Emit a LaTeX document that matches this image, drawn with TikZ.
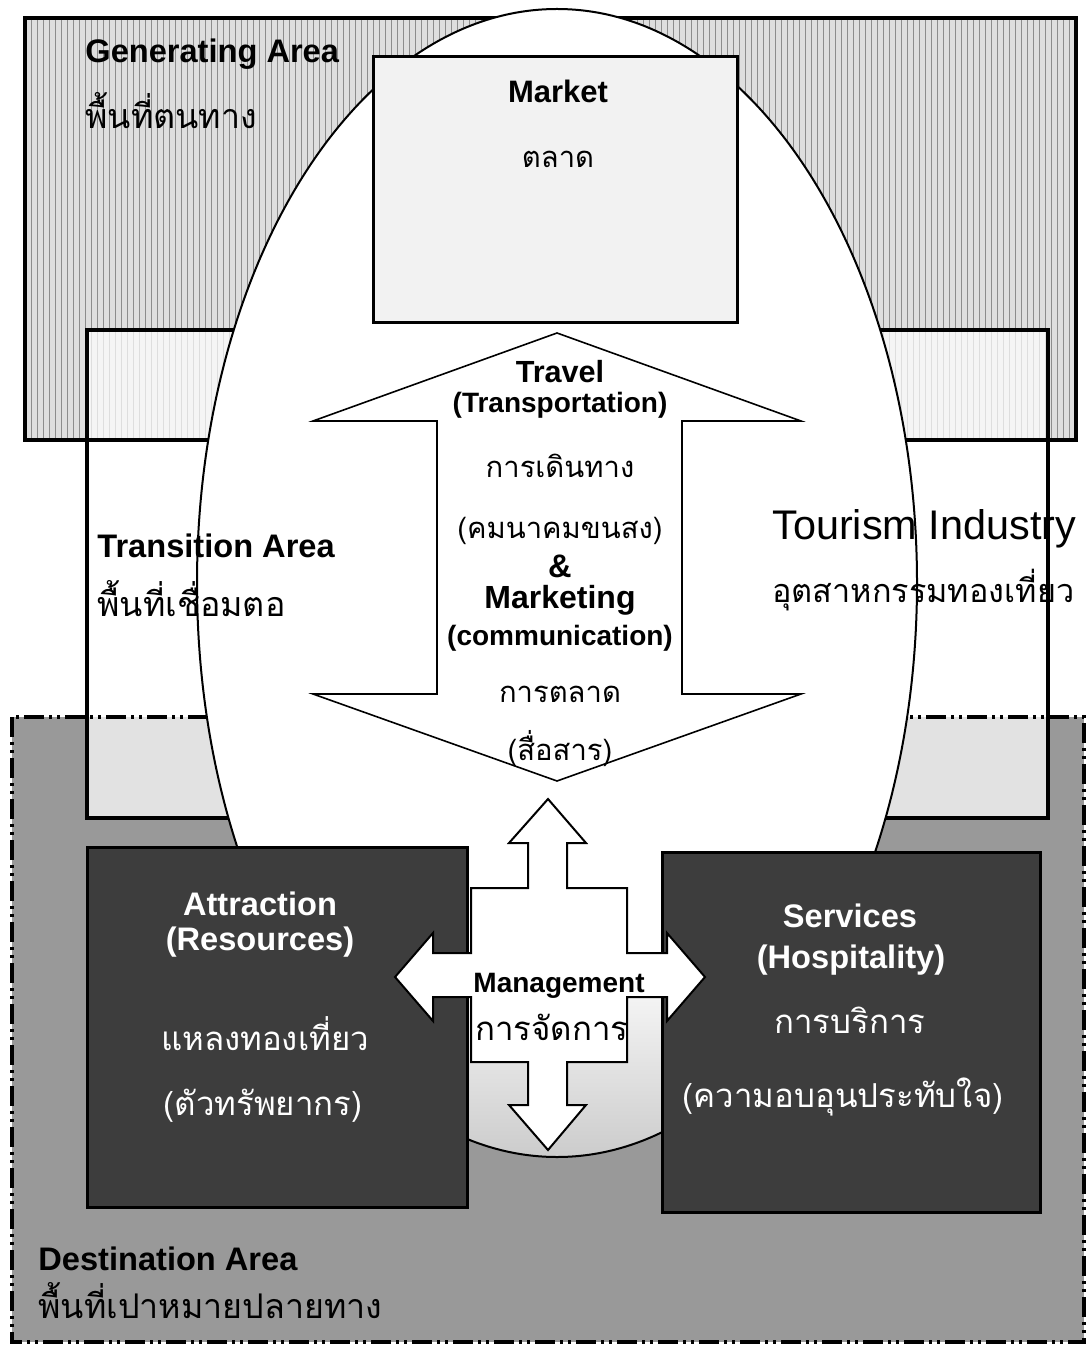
\documentclass[tikz,border=0pt]{standalone}
\usepackage{fontspec}
\usetikzlibrary{patterns}
\setmainfont{Liberation Sans}
\newfontfamily\thaifont[Script=Thai]{Loma}
\pgfdeclareverticalshading{eggshade}{100bp}{color(0bp)=(black!20); color(25bp)=(black!20); color(34bp)=(white); color(100bp)=(white)}
\begin{document}
\begin{tikzpicture}[x=0.5pt,y=-0.5pt,
  areaborder/.style={line width=2pt},
  areatitle/.style={inner sep=0pt, anchor=base west, font=\fontsize{16.3}{18}\selectfont\bfseries},
  areathai/.style={inner sep=0pt, anchor=base west, font=\fontsize{17}{20}\selectfont\thaifont},
  headb/.style={inner sep=0pt, anchor=base, font=\fontsize{16.3}{18}\selectfont\bfseries},
  subb/.style={inner sep=0pt, anchor=base, font=\fontsize{14}{16}\selectfont\bfseries},
  thaic/.style={inner sep=0pt, anchor=base, font=\fontsize{14.6}{17}\selectfont\thaifont},
  thaibox/.style={inner sep=0pt, anchor=base, text=white, font=\fontsize{16.5}{18}\selectfont\thaifont},
  darkbox/.style={draw=black, line width=1.5pt, fill=black!76},
  whitearrow/.style={draw=black, fill=white, line join=miter}
]
\useasboundingbox (0,0) rectangle (1087,1347);
\fill[white] (0,0) rectangle (1087,1347);

% area fills
\path[fill=black!13] (25,18) rectangle (1076,440);
\path[pattern=vertical lines, pattern color=black!45] (25,18) rectangle (1076,440);
\path[fill=black!40] (12,717) rectangle (1084,1342);
\path[fill=white, fill opacity=0.72] (87,330) rectangle (1048,818);

% area borders
\draw[areaborder] (25,18) rectangle (1076,440);
\draw[line width=1.6pt, dash pattern=on 10pt off 2.5pt on 1.5pt off 2.5pt on 1.5pt off 2.5pt] (12,717) rectangle (1084,1342);
\draw[areaborder] (87,330) rectangle (1048,818);

% ellipse (tourism industry)
\path[draw=black, line width=1pt, shading=eggshade]
  (557,583) ellipse [x radius=180pt, y radius=287pt];

% market box
\draw[line width=1.5pt, fill=black!5] (373,57) rectangle (737,323);

% travel / marketing double arrow
\draw[whitearrow, line width=0.8pt]
  (557,333) -- (801,421) -- (682,421) -- (682,694) -- (801,694) -- (557,781)
  -- (313,694) -- (437,694) -- (437,421) -- (313,421) -- cycle;

% attraction and services boxes
\draw[darkbox] (87,847) rectangle (467,1207);
\draw[darkbox] (662,852) rectangle (1040,1212);

% management cross arrow
\draw[whitearrow, line width=1pt]
  (548,799) -- (586,843) -- (567,843) -- (567,888) -- (627,888) -- (627,953)
  -- (667,953) -- (667,933) -- (705,977) -- (667,1021) -- (667,997) -- (627,997)
  -- (627,1062) -- (567,1062) -- (567,1105) -- (586,1105) -- (548,1150)
  -- (509,1105) -- (528,1105) -- (528,1062) -- (471,1062) -- (471,997)
  -- (433,997) -- (433,1021) -- (395,977) -- (433,933) -- (433,953) -- (471,953)
  -- (471,888) -- (528,888) -- (528,843) -- (509,843) -- cycle;

% area labels
\node[areatitle] (genT) at (85,63) {Generating Area};
\node[areathai] (genTh) at (85,129) {พื้นที่ตนทาง};
\node[areatitle] (traT) at (97,557) {Transition Area};
\node[areathai] (traTh) at (97,616) {พื้นที่เชื่อมตอ};
\node[areatitle] (desT) at (38,1270) {Destination Area};
\node[areathai] (desTh) at (38,1318) {พื้นที่เปาหมายปลายทาง};
\node[inner sep=0pt, anchor=base west, font=\fontsize{20.7}{24}\selectfont] (touT) at (772,539) {Tourism Industry};
\node[inner sep=0pt, anchor=base west, font=\fontsize{16.2}{20}\selectfont\thaifont] (touTh) at (772,602) {อุตสาหกรรมทองเที่ยว};

% market
\node[headb, font=\fontsize{15.5}{18}\selectfont\bfseries] (mkT) at (558,103) {Market};
\node[thaic] (mkTh) at (558,168) {ตลาด};

% travel & marketing
\node[headb, font=\fontsize{15.3}{18}\selectfont\bfseries] (trT) at (560,383) {Travel};
\node[subb] (trS) at (560,413) {(Transportation)};
\node[thaic] (trTh) at (560,477) {การเดินทาง};
\node[thaic] (trTh2) at (560,538) {(คมนาคมขนสง)};
\node[headb] (amp) at (560,577) {\&};
\node[headb, font=\fontsize{16}{18}\selectfont\bfseries] (mtT) at (560,608) {Marketing};
\node[subb] (mtS) at (560,645) {(communication)};
\node[thaic] (mtTh) at (560,702) {การตลาด};
\node[thaic] (mtTh2) at (560,760) {(สื่อสาร)};

% attraction
\node[headb, text=white] (atT) at (260,915) {Attraction};
\node[headb, text=white] (atS) at (260,950) {(Resources)};
\node[thaibox] (atTh) at (265,1050) {แหลงทองเที่ยว};
\node[thaibox] (atTh2) at (263,1115) {(ตัวทรัพยากร)};

% services
\node[headb, text=white] (svT) at (850,927) {Services};
\node[headb, text=white] (svS) at (851,968) {(Hospitality)};
\node[thaibox] (svTh) at (850,1033) {การบริการ};
\node[thaibox] (svTh2) at (843,1107) {(ความอบอุนประทับใจ)};

% management
\node[subb] (mgT) at (559,992) {Management};
\node[thaibox, text=black] (mgTh) at (552,1040) {การจัดการ};
\end{tikzpicture}
\end{document}
